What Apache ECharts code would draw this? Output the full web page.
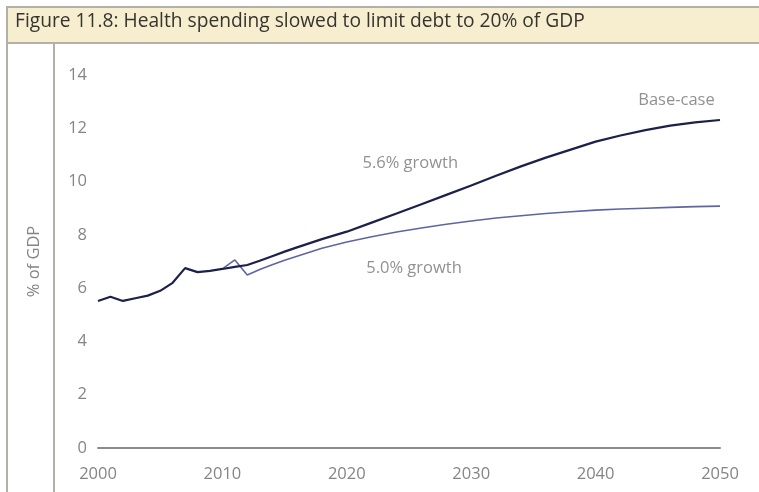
<!DOCTYPE html>
<html>
<head>
<meta charset="utf-8">
<script src="https://cdn.jsdelivr.net/npm/echarts@6/dist/echarts.min.js"></script>
<style>html,body{margin:0;padding:0;background:#fff}#c{width:759px;height:492px}</style>
</head>
<body>
<div id="c"></div>
<script>
// Data
var titleText = 'Figure 11.8: Health spending slowed to limit debt to 20% of GDP';
var yAxisName = '% of GDP';
var xTicks = [2000, 2010, 2020, 2030, 2040, 2050];
var yTicks = [0, 2, 4, 6, 8, 10, 12, 14];
var baseYears = [2000,2001,2002,2003,2004,2005,2006,2007,2008,2009,2010,2011,2012,2013,2014,2015,2016,2018,2020,2022,2024,2026,2028,2030,2032,2034,2036,2038,2040,2042,2044,2046,2048,2050];
var baseValues = [5.52,5.68,5.52,5.62,5.72,5.90,6.20,6.75,6.60,6.65,6.72,6.80,6.87,7.03,7.20,7.37,7.53,7.84,8.12,8.46,8.80,9.15,9.50,9.85,10.22,10.57,10.90,11.20,11.50,11.73,11.93,12.10,12.22,12.31];
var lowYears = [2010,2011,2012,2013,2014,2015,2016,2018,2020,2022,2024,2026,2028,2030,2032,2034,2036,2038,2040,2042,2044,2046,2048,2050];
var lowValues = [6.72,7.06,6.49,6.70,6.88,7.05,7.20,7.50,7.73,7.93,8.11,8.26,8.40,8.52,8.63,8.72,8.80,8.87,8.93,8.97,9.00,9.03,9.06,9.08];
var seriesNames = ['Base-case', '5.0% growth'];
var annotations = [
  {text: 'Base-case', year: 2046.5, value: 13.06},
  {text: '5.6% growth', year: 2025.1, value: 10.7},
  {text: '5.0% growth', year: 2025.4, value: 6.76}
];

function pairs(xs, ys){ return xs.map(function(x,i){ return [x, ys[i]]; }); }

var chart = echarts.init(document.getElementById('c'));
var option = {
  animation: false,
  grid: {left: 98, right: 39, top: 75, bottom: 44},
  xAxis: {
    type: 'value', min: xTicks[0], max: xTicks[xTicks.length-1], interval: 10,
    axisLine: {show: true, lineStyle: {color: '#8c8c8c', width: 2}},
    axisTick: {show: false},
    splitLine: {show: false},
    axisLabel: {color: '#858585', fontFamily: 'Open Sans', fontSize: 16.5, margin: 18,
      formatter: function(v){ return String(v); }}
  },
  yAxis: {
    type: 'value', min: yTicks[0], max: yTicks[yTicks.length-1], interval: 2,
    axisLine: {show: false}, axisTick: {show: false}, splitLine: {show: false},
    axisLabel: {color: '#858585', fontFamily: 'Open Sans', fontSize: 16.5, margin: 11},
    name: yAxisName, nameLocation: 'middle', nameRotate: 90, nameGap: 55,
    nameTextStyle: {color: '#858585', fontFamily: 'Open Sans', fontSize: 16.5}
  },
  series: [
    {name: seriesNames[1], type: 'line', data: pairs(lowYears, lowValues), symbol: 'none',
      lineStyle: {color: '#5d66a2', width: 1.6}, z: 2},
    {name: seriesNames[0], type: 'line', data: pairs(baseYears, baseValues), symbol: 'none',
      lineStyle: {color: '#1b2149', width: 2.2}, z: 3},
    {name: 'labels', type: 'scatter', symbolSize: 0, silent: true,
      data: annotations.map(function(a){ return {name: a.text, value: [a.year, a.value]}; }),
      label: {show: true, position: 'inside', color: '#767676', fontFamily: 'Open Sans', fontSize: 16.5,
        formatter: function(p){ return p.name; }}}
  ],
  graphic: [
    {type: 'rect', shape: {x: 7, y: 7, width: 760, height: 36},
      style: {fill: '#f6eecf', stroke: '#b3b1a6', lineWidth: 2}, z: 10},
    {type: 'line', shape: {x1: 7, y1: 43, x2: 7, y2: 492}, style: {stroke: '#b3b1a6', lineWidth: 2}},
    {type: 'line', shape: {x1: 54, y1: 43, x2: 54, y2: 492}, style: {stroke: '#b3b1a6', lineWidth: 2}},
    {type: 'text', left: 15, top: 12, z: 11,
      style: {text: titleText, fill: '#363430', font: '19.2px "Open Sans"'}}
  ]
};
chart.setOption(option);
</script>
</body>
</html>
